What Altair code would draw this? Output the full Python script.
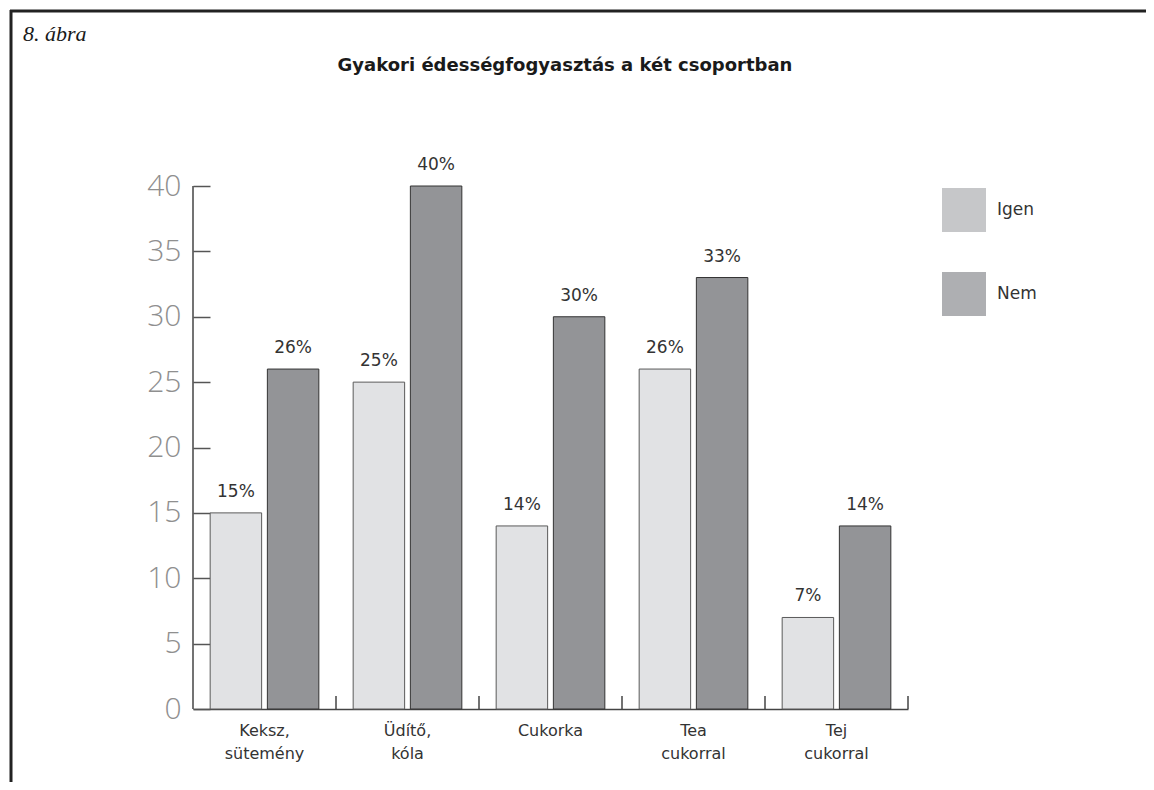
import altair as alt
import pandas as pd

# ---- data ----
categories = ["Keksz, sütemény", "Üdítő, kóla", "Cukorka", "Tea cukorral", "Tej cukorral"]
groups = ["Igen", "Nem"]
igen_values = [15, 25, 14, 26, 7]
nem_values = [26, 40, 30, 33, 14]
y_ticks = [0, 5, 10, 15, 20, 25, 30, 35, 40]
title_text = "Gyakori édességfogyasztás a két csoportban"
figure_label = "8. ábra"

bar_fill = ["#e1e2e4", "#939497"]
bar_stroke = ["#5a5a5a", "#333333"]
legend_fill = ["#c6c7c9", "#aeafb2"]

rows = []
for c, a, b in zip(categories, igen_values, nem_values):
    rows.append({"kategoria": c, "csoport": "Igen", "ertek": a})
    rows.append({"kategoria": c, "csoport": "Nem", "ertek": b})
df = pd.DataFrame(rows)
df["felirat"] = df["ertek"].astype(str) + "%"
cat_df = pd.DataFrame({"kategoria": categories})

W, H = 715, 523
FONT = "DejaVu Sans"

x_axis = alt.Axis(
    title=None, labelAngle=0, ticks=False, domain=True, domainColor="#444444",
    domainWidth=1.5, labelFont=FONT, labelFontSize=16, labelColor="#333333",
    labelPadding=13, labelLineHeight=23, labelExpr="split(datum.label, ' ')",
)
x_scale = alt.Scale(paddingInner=0, paddingOuter=0)
y_axis = alt.Axis(
    title=None, values=y_ticks, domain=False, grid=False, offset=-17, tickSize=17,
    tickColor="#555555", tickWidth=1.5, labelFont="Open Sans", labelFontWeight=300,
    labelFontSize=30, labelColor="#8f8f8f", labelPadding=12,
)
y_scale = alt.Scale(domain=[0, 40], nice=False)

x_enc = alt.X("kategoria:N", sort=categories, scale=x_scale, axis=x_axis)
xoff = alt.XOffset("csoport:N", sort=groups, scale=alt.Scale(paddingInner=0.1, paddingOuter=0.3))
y_enc = alt.Y("ertek:Q", scale=y_scale, axis=y_axis)

base = alt.Chart(df)
is_igen = f"datum.csoport == '{groups[0]}'"

bars = base.mark_bar(strokeWidth=1).encode(
    x=x_enc, xOffset=xoff, y=y_enc,
    fill=alt.condition(is_igen, alt.value(bar_fill[0]), alt.value(bar_fill[1])),
    stroke=alt.condition(is_igen, alt.value(bar_stroke[0]), alt.value(bar_stroke[1])),
)

labels = base.mark_text(dy=-16, baseline="alphabetic", font=FONT, fontSize=17, color="#333333").encode(
    x=x_enc, xOffset=xoff, y=y_enc, text="felirat:N",
)

# legend-only layer (no rows drawn; the legend comes from the explicit scale domain)
legend_layer = base.transform_filter("false").mark_square().encode(
    x=x_enc, y=y_enc,
    color=alt.Color(
        "csoport:N",
        scale=alt.Scale(domain=groups, range=legend_fill),
        legend=alt.Legend(
            title=None, orient="none", legendX=749, legendY=2, padding=0,
            symbolType="square", symbolSize=1936, symbolOpacity=1, symbolStrokeWidth=0,
            rowPadding=40, labelFont=FONT, labelFontSize=17, labelColor="#333333",
            labelOffset=11,
        ),
    ),
)

x_ticks = alt.Chart(cat_df).mark_rule(color="#444444", strokeWidth=1.5).encode(
    x=alt.X("kategoria:N", sort=categories, scale=x_scale, axis=x_axis, bandPosition=1),
    y=alt.datum(0), y2=alt.datum(1),
)

y_domain = alt.Chart(cat_df.head(1)).mark_rule(color="#444444", strokeWidth=1.5).encode(
    x=alt.value(0), y=alt.datum(0), y2=alt.datum(40),
)

frame_top = alt.Chart(cat_df.head(1)).mark_rule(color="#222222", strokeWidth=3).encode(
    x=alt.value(-183), x2=alt.value(960), y=alt.value(-175),
)
frame_left = alt.Chart(cat_df.head(1)).mark_rule(color="#222222", strokeWidth=3).encode(
    x=alt.value(-182), y=alt.value(-176), y2=alt.value(600),
)

title_mark = alt.Chart(pd.DataFrame({"t": [title_text]})).mark_text(
    font=FONT, fontSize=18, fontWeight="bold", color="#1a1a1a", align="center", baseline="alphabetic",
).encode(text="t:N", x=alt.value(372), y=alt.value(-115))

fig_mark = alt.Chart(pd.DataFrame({"t": [figure_label]})).mark_text(
    font="Liberation Serif", fontSize=22, fontStyle="italic", color="#1a1a1a", align="left", baseline="alphabetic",
).encode(text="t:N", x=alt.value(-170), y=alt.value(-145))

chart = alt.layer(
    bars, labels, legend_layer, x_ticks, y_domain, frame_top, frame_left, title_mark, fig_mark
).properties(
    width=W, height=H,
    background="white",
    autosize=alt.AutoSizeParams(type="none"),
    padding={"left": 185, "top": 178, "right": 238, "bottom": 73},
).configure_view(stroke=None)

chart.save("out.html", embed_options={"renderer": "svg", "actions": False})
